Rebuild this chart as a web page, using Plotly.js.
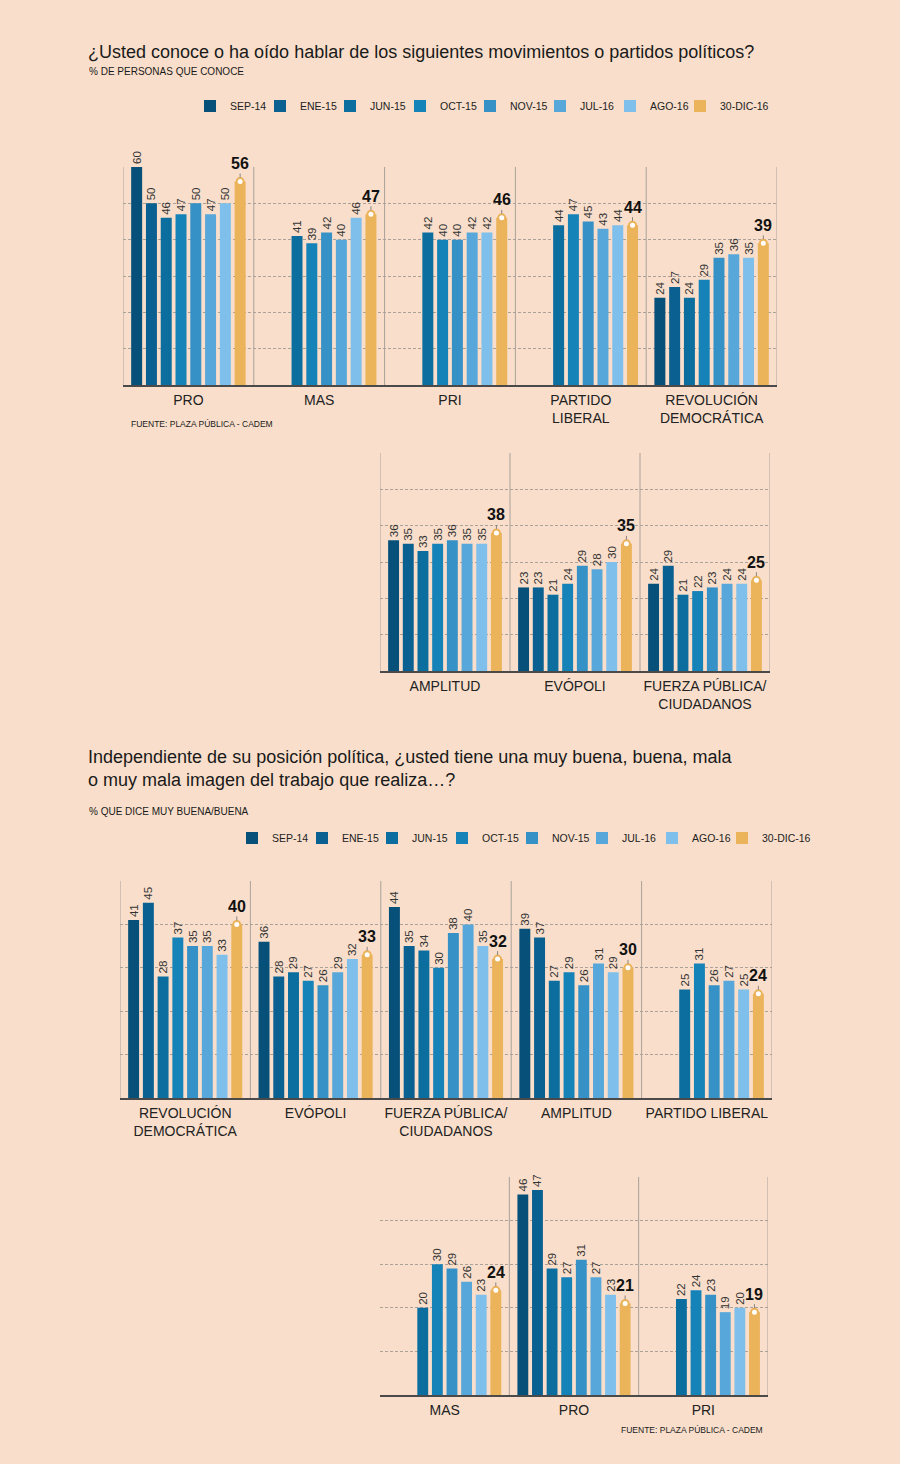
<!DOCTYPE html>
<html>
<head>
<meta charset="utf-8">
<script src="https://cdn.plot.ly/plotly-3.0.1.min.js"></script>
<style>
  html, body { margin: 0; padding: 0; background: #f9dfcb; }
  #chart { width: 900px; height: 1464px; }
</style>
</head>
<body>
<div id="chart"></div>
<script>
// ---------- DATA ----------
const seriesNames = ['SEP-14', 'ENE-15', 'JUN-15', 'OCT-15', 'NOV-15', 'JUL-16', 'AGO-16', '30-DIC-16'];
const seriesColors = ['#06507a', '#0a6090', '#0b6e9f', '#1582b8', '#3591c6', '#57a7da', '#7fbfeb', '#ebb35a'];

// Panel 1: % que conoce
const p1Cats = ['PRO', 'MAS', 'PRI', 'PARTIDO<br>LIBERAL', 'REVOLUCIÓN<br>DEMOCRÁTICA'];
const p1PRO = [60, 50, 46, 47, 50, 47, 50, 56];
const p1MAS = [null, null, 41, 39, 42, 40, 46, 47];
const p1PRI = [null, null, 42, 40, 40, 42, 42, 46];
const p1PL  = [null, null, 44, 47, 45, 43, 44, 44];
const p1RD  = [24, 27, 24, 29, 35, 36, 35, 39];

// Panel 2: % que conoce (cont.)
const p2Cats = ['AMPLITUD', 'EVÓPOLI', 'FUERZA PÚBLICA/<br>CIUDADANOS'];
const p2AMP = [36, 35, 33, 35, 36, 35, 35, 38];
const p2EVO = [23, 23, 21, 24, 29, 28, 30, 35];
const p2FP  = [24, 29, 21, 22, 23, 24, 24, 25];

// Panel 3: % muy buena/buena
const p3Cats = ['REVOLUCIÓN<br>DEMOCRÁTICA', 'EVÓPOLI', 'FUERZA PÚBLICA/<br>CIUDADANOS', 'AMPLITUD', 'PARTIDO LIBERAL'];
const p3RD  = [41, 45, 28, 37, 35, 35, 33, 40];
const p3EVO = [36, 28, 29, 27, 26, 29, 32, 33];
const p3FP  = [44, 35, 34, 30, 38, 40, 35, 32];
const p3AMP = [39, 37, 27, 29, 26, 31, 29, 30];
const p3PL  = [null, null, 25, 31, 26, 27, 25, 24];

// Panel 4: % muy buena/buena (cont.)
const p4Cats = ['MAS', 'PRO', 'PRI'];
const p4MAS = [null, null, 20, 30, 29, 26, 23, 24];
const p4PRO = [46, 47, 29, 27, 31, 27, 23, 21];
const p4PRI = [null, null, 22, 24, 23, 19, 20, 19];

// ---------- LAYOUT HELPERS ----------
const W = 900, H = 1464;
const FONT = '"Liberation Sans", Arial, sans-serif';
const px = v => v / W;
const py = v => 1 - v / H;
const SLOT = 0.113;   // slot width in category units
const BARW = 0.084;   // bar width in category units

const traces = [];
const annotations = [];
const shapes = [];
const layout = {
  width: W, height: H,
  margin: {l: 0, r: 0, t: 0, b: 0},
  paper_bgcolor: '#f9dfcb',
  plot_bgcolor: 'rgba(0,0,0,0)',
  barmode: 'overlay',
  font: {family: FONT, color: '#222'},
  showlegend: true,
  annotations: annotations,
  shapes: shapes
};

function panel(idx, cats, rows, box, ymax, legendName, leftBorder) {
  const xa = idx === 1 ? 'x' : 'x' + idx;
  const ya = idx === 1 ? 'y' : 'y' + idx;
  const xKey = idx === 1 ? 'xaxis' : 'xaxis' + idx;
  const yKey = idx === 1 ? 'yaxis' : 'yaxis' + idx;
  const n = cats.length;
  layout[xKey] = {
    domain: [px(box.x0), px(box.x1)],
    anchor: ya,
    range: [-0.5, n - 0.5],
    tickvals: cats.map((c, i) => i),
    ticktext: cats,
    showgrid: false, zeroline: false,
    showline: true, linecolor: '#4a4a4a', linewidth: 2,
    ticks: '',
    ticklabelstandoff: 1,
    tickfont: {size: 14, color: '#222', family: FONT},
    fixedrange: true
  };
  layout[yKey] = {
    domain: [py(box.y1), py(box.y0)],
    anchor: xa,
    range: [0, ymax],
    dtick: 10,
    showgrid: true, gridcolor: '#aaa198', griddash: '3px,2px', gridwidth: 1,
    zeroline: false, showticklabels: false, ticks: '',
    fixedrange: true
  };
  // vertical separators
  for (let i = leftBorder ? 0 : 1; i <= n; i++) {
    shapes.push({type: 'line', xref: xa, yref: ya + ' domain', x0: i - 0.5, x1: i - 0.5, y0: 0, y1: 1,
      line: {color: '#a9a19a', width: 1}, layer: 'below'});
  }
  for (let s = 0; s < seriesNames.length; s++) {
    const xs = cats.map((c, g) => g + (s - 3.5) * SLOT);
    const ys = rows.map(r => r[s]);
    const last = s === seriesNames.length - 1;
    traces.push({
      type: 'bar', name: seriesNames[s], x: xs, y: ys, xaxis: xa, yaxis: ya,
      width: BARW, marker: {color: seriesColors[s], line: {width: 0}},
      text: last ? null : ys.map(v => v == null ? '' : String(v)),
      textposition: 'outside', textangle: -90, constraintext: 'none', cliponaxis: false,
      textfont: {size: 11.5, color: '#333', family: FONT},
      legend: legendName || 'legend', showlegend: !!legendName, legendrank: s,
      legendwidth: last ? 60 : 25,
      hoverinfo: 'skip'
    });
    if (last) {
      traces.push({
        type: 'scatter', mode: 'markers', x: xs, y: ys, xaxis: xa, yaxis: ya,
        marker: {size: 7, color: '#ffffff', line: {color: seriesColors[s], width: 2}},
        showlegend: false, hoverinfo: 'skip', cliponaxis: false
      });
      ys.forEach((v, g) => {
        if (v == null) return;
        annotations.push({
          xref: xa, yref: ya, x: xs[g], y: v, text: '<b>' + v + '</b>',
          showarrow: true, arrowhead: 0, arrowwidth: 1, arrowcolor: '#8a8580',
          ax: 0, ay: -18, standoff: 4,
          font: {size: 16, color: '#111', family: FONT}
        });
      });
    }
  }
}

panel(1, p1Cats, [p1PRO, p1MAS, p1PRI, p1PL, p1RD], {x0: 123, x1: 777, y0: 167, y1: 385}, 60, 'legend', true);
panel(2, p2Cats, [p2AMP, p2EVO, p2FP], {x0: 380, x1: 770, y0: 453, y1: 671}, 60, null, true);
panel(3, p3Cats, [p3RD, p3EVO, p3FP, p3AMP, p3PL], {x0: 120, x1: 772, y0: 881, y1: 1098}, 50, 'legend2', true);
panel(4, p4Cats, [p4MAS, p4PRO, p4PRI], {x0: 380, x1: 768, y0: 1177, y1: 1395}, 50, null, false);

const legendCommon = {
  orientation: 'h', xanchor: 'left', yanchor: 'middle',
  entrywidth: 25, entrywidthmode: 'pixels',
  font: {size: 10.5, color: '#222', family: FONT},
  bgcolor: 'rgba(0,0,0,0)', borderwidth: 0, traceorder: 'normal',
  itemclick: false, itemdoubleclick: false
};
layout.legend = Object.assign({}, legendCommon, {x: px(190), y: py(106)});
layout.legend2 = Object.assign({}, legendCommon, {x: px(232), y: py(838)});

function txt(text, x, y, size, opts) {
  annotations.push(Object.assign({
    xref: 'paper', yref: 'paper', x: px(x), y: py(y), text: text, showarrow: false,
    xanchor: 'left', yanchor: 'middle', align: 'left',
    font: {size: size, color: '#1a1a1a', family: FONT}
  }, opts || {}));
}
txt('¿Usted conoce o ha oído hablar de los siguientes movimientos o partidos políticos?', 86, 52, 18);
txt('% DE PERSONAS QUE CONOCE', 87, 71, 10);
txt('FUENTE: PLAZA PÚBLICA - CADEM', 129, 424, 8.5);
txt('Independiente de su posición política, ¿usted tiene una muy buena, buena, mala<br>o muy mala imagen del trabajo que realiza…?', 86, 768, 18);
txt('% QUE DICE MUY BUENA/BUENA', 87, 812, 10);
txt('FUENTE: PLAZA PÚBLICA - CADEM', 765, 1430, 8.5, {xanchor: 'right'});

Plotly.newPlot('chart', traces, layout, {displayModeBar: false, staticPlot: true});
</script>
</body>
</html>
